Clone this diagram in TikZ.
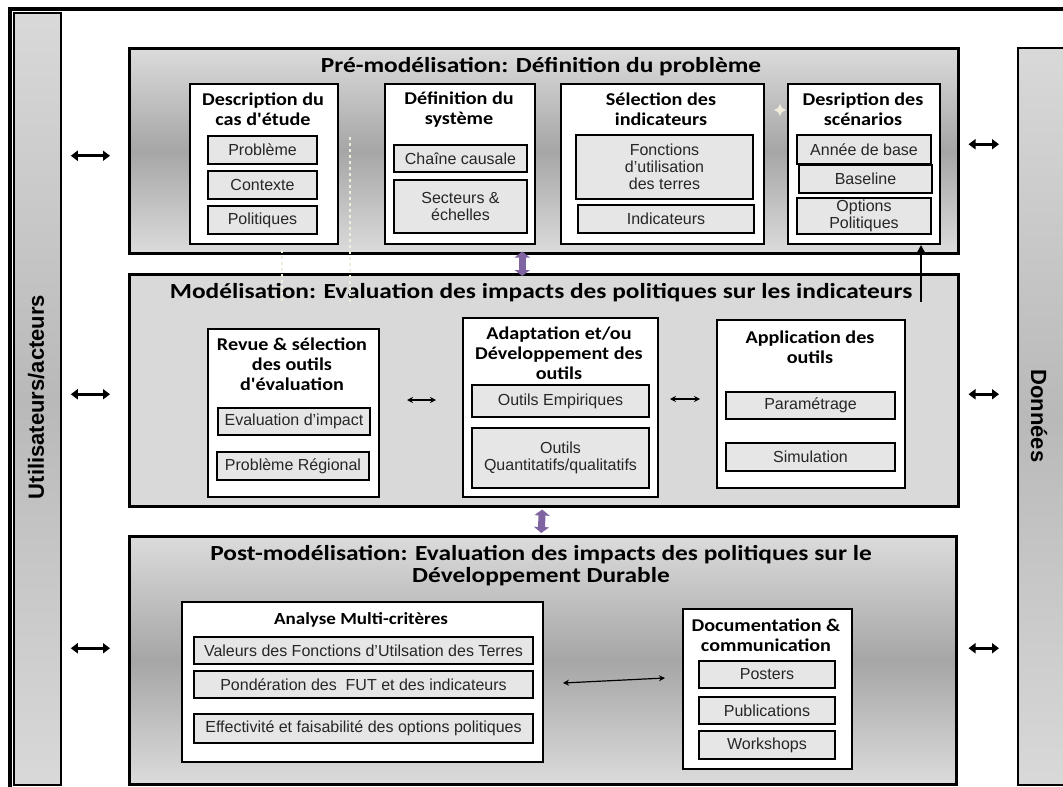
\documentclass[tikz,border=0pt]{standalone}
\usepackage{fontspec}
\setmainfont{Liberation Sans}
\newfontfamily\headfont[FakeStretch=1.12]{Carlito}
\newfontfamily\phasefont[FakeStretch=1.18]{Carlito}
\usetikzlibrary{arrows.meta,calc}
\definecolor{panelgray}{HTML}{D9D9D9}
\definecolor{subgray}{HTML}{E6E6E6}
\definecolor{linkpurple}{RGB}{128,100,162}
\definecolor{cream}{HTML}{F2EEDC}

% box placed by its top-left and bottom-right corners (in px)
\newcommand\placebox[6]{\node[#2, anchor=north west,
  minimum width={(#5-#3)*1pt}, minimum height={(#6-#4)*1pt}] (#1) at (#3,#4)}

\begin{document}
\begin{tikzpicture}[x=1pt,y=-1pt,
  band/.style={draw=black, line width=2.5pt, top color=gray!28, bottom color=gray!28, middle color=gray!70},
  flatband/.style={draw=black, line width=2.5pt, fill=panelgray},
  sidebar/.style={draw=black, line width=1.8pt, top color=gray!30, bottom color=gray!30, middle color=gray!55},
  card/.style={draw=black, line width=2pt, fill=white},
  item/.style={draw=black, line width=2pt, fill=subgray, inner sep=1pt, align=center,
    text=black!85, font=\fontsize{16}{17}\selectfont},
  headline/.style={font=\phasefont\bfseries\fontsize{21.5}{22}\selectfont, align=center},
  cardtitle/.style={font=\headfont\bfseries\fontsize{18}{20}\selectfont, align=center},
  sidelabel/.style={font=\bfseries\fontsize{22}{24}\selectfont},
  outerlink/.style={line width=3pt, {Triangle[length=7pt,width=10pt]}-{Triangle[length=7pt,width=10pt]}},
  innerlink/.style={line width=1.2pt, {Stealth[length=6pt,width=6pt]}-{Stealth[length=6pt,width=6pt]}},
  phaselink/.style={draw=linkpurple, line width=7pt, {Triangle[length=6pt,width=15pt]}-{Triangle[length=6pt,width=15pt]}},
  feedlink/.style={line width=2pt, -{Triangle[length=7pt,width=7pt]}},
  ghost/.style={draw=cream, line width=1.2pt, dashed}
]
\useasboundingbox (0,0) rectangle (1063,787);
\clip (0,0) rectangle (1063,787);

% outer frame and side bars
\draw[line width=4pt] (10,9) rectangle (1090,810);
\placebox{lbar}{sidebar}{13}{12}{60}{784} {};
\placebox{rbar}{sidebar}{1017}{47}{1070}{784} {};
\node[sidelabel, rotate=90] (users) at (36,397) {Utilisateurs/acteurs};
\node[sidelabel, rotate=-90] (data) at (1039,416) {Données};

% the three phases
\placebox{top}{band}{128}{47}{957}{252} {};
\placebox{mid}{flatband}{128}{273}{957}{505} {};
\placebox{bot}{band}{128}{535}{955}{783} {};

\node[headline] (top-t) at (541,67) {Pré-modélisation: Définition du problème};
\node[headline] (mid-t) at (541,293) {Modélisation: Evaluation des impacts des politiques sur les indicateurs};
\node[headline] (bot-t) at (541,566) {Post-modélisation: Evaluation des impacts des politiques sur le\\Développement Durable};

% faint dashed traces
\coordinate (g1a) at (282,250); \coordinate (g1b) at (282,302);
\coordinate (g2a) at (350,137); \coordinate (g2b) at (350,302);
\draw[ghost] (g1a) -- (g1b);
\draw[ghost] (g2a) -- (g2b);

% pre-modelling cards
\placebox{desc}{card}{189}{83}{337}{243} {};
\node[cardtitle] (desc-t) at (263,109) {Description du\\cas d'étude};
\placebox{prob}{item}{207}{135}{316}{163} {Problème};
\placebox{ctx}{item}{207}{170}{316}{198} {Contexte};
\placebox{pol}{item}{207}{205}{316}{233} {Politiques};

\placebox{def}{card}{384}{83}{534}{243} {};
\node[cardtitle] (def-t) at (459,110) {Définition du\\système};
\placebox{chain}{item}{393}{144}{526}{171} {Chaîne causale};
\placebox{sect}{item}{393}{179}{526}{232} {Secteurs \&\\échelles};

\placebox{sel}{card}{560}{83}{763}{243} {};
\node[cardtitle] (sel-t) at (661,109) {Sélection des\\indicateurs};
\placebox{fut}{item}{575}{134}{752}{198} {Fonctions\\d'utilisation\\des terres};
\placebox{ind}{item}{577}{204}{753}{232} {Indicateurs};

\placebox{scen}{card}{787}{83}{939}{243} {};
\node[cardtitle] (scen-t) at (863,109) {Desription des\\scénarios};
\placebox{year}{item}{796}{134}{930}{163} {Année de base};
\placebox{base}{item}{798}{164}{931}{192} {Baseline};
\placebox{opt}{item}{796}{197}{930}{233} {Options\\Politiques};

% modelling cards
\placebox{revue}{card}{207}{328}{378}{496} {};
\node[cardtitle] (revue-t) at (292,364) {Revue \& sélection\\des outils\\d'évaluation};
\placebox{evi}{item}{217}{407}{369}{434} {Evaluation d'impact};
\placebox{preg}{item}{216}{451}{368}{479} {Problème Régional};

\placebox{adapt}{card}{462}{317}{657}{496} {};
\node[cardtitle] (adapt-t) at (559,353) {Adaptation et/ou\\Développement des\\outils};
\placebox{emp}{item}{471}{384}{648}{416} {Outils Empiriques};
\placebox{quant}{item}{471}{427}{648}{487} {Outils\\Quantitatifs/qualitatifs};

\placebox{app}{card}{716}{319}{904}{487} {};
\node[cardtitle] (app-t) at (810,347) {Application des\\outils};
\placebox{param}{item}{725}{391}{894}{418} {Paramétrage};
\placebox{simu}{item}{725}{442}{894}{470} {Simulation};

% post-modelling cards
\placebox{amc}{card}{181}{601}{542}{761} {};
\node[cardtitle, font=\headfont\bfseries\fontsize{17}{19}\selectfont] (amc-t) at (361,620) {Analyse Multi-critères};
\placebox{val}{item}{193}{636}{532}{663} {Valeurs des Fonctions d'Utilsation des Terres};
\placebox{pond}{item}{193}{670}{532}{697} {Pondération des\ \ FUT et des indicateurs};
\placebox{eff}{item}{193}{713}{532}{742} {Effectivité et faisabilité des options politiques};

\placebox{doc}{card}{682}{608}{851}{768} {};
\node[cardtitle] (doc-t) at (766,635) {Documentation \&\\communication};
\placebox{post}{item}{698}{660}{834}{687} {Posters};
\placebox{pub}{item}{698}{696}{834}{723} {Publications};
\placebox{work}{item}{698}{730}{834}{758} {Workshops};

% links between the actors/data bars and the phases
\draw[outerlink] ($(lbar.east |- top.west)+(9,5)$) -- ($(top.west)+(-18,5)$);
\draw[outerlink] ($(lbar.east |- mid.west)+(9,4)$) -- ($(mid.west)+(-18,4)$);
\draw[outerlink] ($(lbar.east |- bot.west)+(9,-12)$) -- ($(bot.west)+(-18,-12)$);
\draw[outerlink] ($(top.east)+(9,-6.5)$) -- ($(rbar.west |- top.east)+(-18,-6.5)$);
\draw[outerlink] ($(mid.east)+(9,4)$) -- ($(rbar.west |- mid.east)+(-18,4)$);
\draw[outerlink] ($(bot.east)+(11,-12)$) -- ($(rbar.west |- bot.east)+(-18,-12)$);

% links between phases
\draw[phaselink] ($(top.south)+(-21.5,-3)$) -- ($(mid.north)+(-21.5,3)$);
\draw[phaselink] ($(mid.south)+(-1.5,2)$) -- ($(bot.north)+(-1.5,-2)$);

% feedback from modelling to scenarios
\coordinate (feed) at (921,302);
\draw[feedlink] (feed) -- (feed |- scen.south);

% links between cards
\draw[innerlink] ($(revue.east)+(27,-13)$) -- ($(adapt.west)+(-26,-7.5)$);
\draw[innerlink] ($(adapt.east)+(11,-8.5)$) -- ($(app.west)+(-16,-5)$);
\draw[innerlink] ($(amc.east)+(19,1)$) -- ($(doc.west)+(-17,-11)$);

% small mark beside the scenario card
\fill[cream] (780,104) -- (782,108) -- (786,110) -- (782,112) -- (780,116) -- (778,112) -- (774,110) -- (778,108) -- cycle;
\end{tikzpicture}
\end{document}
